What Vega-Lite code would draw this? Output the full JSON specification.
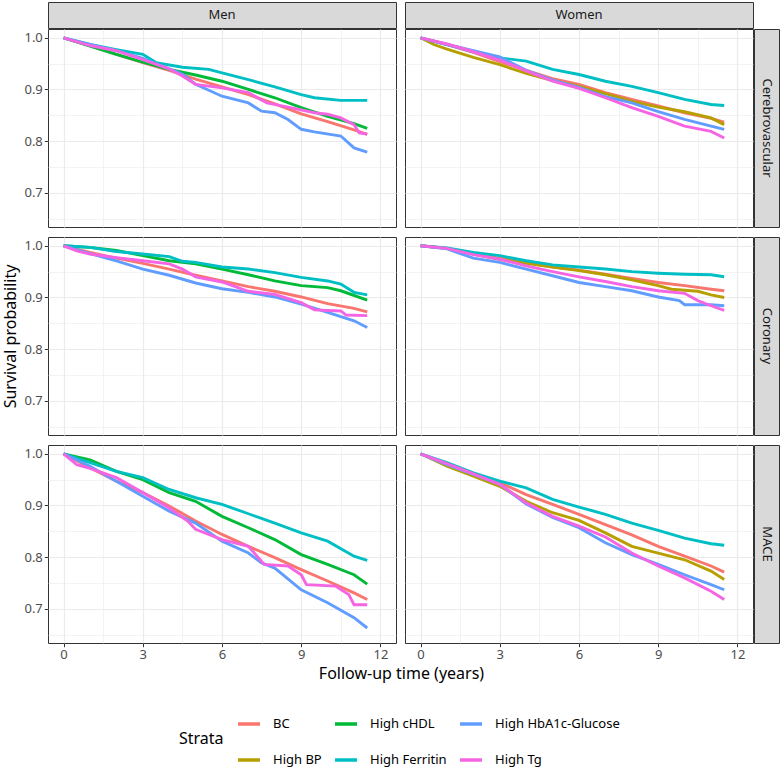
{
"$schema": "https://vega.github.io/schema/vega-lite/v6.json",
"padding": {"left": 2, "top": 1, "right": 1, "bottom": 2},
"background": "white",
"datasets": {
"mCV": [
{"strata":"BC","t":0,"s":1},{"strata":"BC","t":1,"s":0.985},{"strata":"BC","t":2,"s":0.968},{"strata":"BC","t":3,"s":0.952},{"strata":"BC","t":4,"s":0.937},{"strata":"BC","t":5,"s":0.92},{"strata":"BC","t":6,"s":0.905},{"strata":"BC","t":7,"s":0.89},{"strata":"BC","t":8,"s":0.872},{"strata":"BC","t":9,"s":0.853},{"strata":"BC","t":10,"s":0.838},{"strata":"BC","t":11,"s":0.822},{"strata":"BC","t":11.5,"s":0.813},
{"strata":"High cHDL","t":0,"s":1},{"strata":"High cHDL","t":1,"s":0.984},{"strata":"High cHDL","t":2,"s":0.968},{"strata":"High cHDL","t":3,"s":0.953},{"strata":"High cHDL","t":4,"s":0.939},{"strata":"High cHDL","t":5,"s":0.928},{"strata":"High cHDL","t":6,"s":0.916},{"strata":"High cHDL","t":7,"s":0.9},{"strata":"High cHDL","t":8,"s":0.884},{"strata":"High cHDL","t":9,"s":0.865},{"strata":"High cHDL","t":10,"s":0.848},{"strata":"High cHDL","t":11,"s":0.834},{"strata":"High cHDL","t":11.5,"s":0.825},
{"strata":"High Ferritin","t":0,"s":1},{"strata":"High Ferritin","t":1,"s":0.987},{"strata":"High Ferritin","t":2,"s":0.977},{"strata":"High Ferritin","t":3,"s":0.968},{"strata":"High Ferritin","t":3.5,"s":0.952},{"strata":"High Ferritin","t":4.5,"s":0.943},{"strata":"High Ferritin","t":5.5,"s":0.939},{"strata":"High Ferritin","t":6,"s":0.932},{"strata":"High Ferritin","t":7,"s":0.919},{"strata":"High Ferritin","t":8,"s":0.905},{"strata":"High Ferritin","t":9,"s":0.89},{"strata":"High Ferritin","t":9.5,"s":0.884},{"strata":"High Ferritin","t":10.5,"s":0.879},{"strata":"High Ferritin","t":11.5,"s":0.879},
{"strata":"High HbA1c-Glucose","t":0,"s":1},{"strata":"High HbA1c-Glucose","t":1,"s":0.987},{"strata":"High HbA1c-Glucose","t":2,"s":0.975},{"strata":"High HbA1c-Glucose","t":3,"s":0.96},{"strata":"High HbA1c-Glucose","t":4,"s":0.94},{"strata":"High HbA1c-Glucose","t":4.5,"s":0.93},{"strata":"High HbA1c-Glucose","t":5,"s":0.91},{"strata":"High HbA1c-Glucose","t":6,"s":0.887},{"strata":"High HbA1c-Glucose","t":7,"s":0.874},{"strata":"High HbA1c-Glucose","t":7.5,"s":0.858},{"strata":"High HbA1c-Glucose","t":8,"s":0.855},{"strata":"High HbA1c-Glucose","t":8.5,"s":0.842},{"strata":"High HbA1c-Glucose","t":9,"s":0.823},{"strata":"High HbA1c-Glucose","t":9.5,"s":0.818},{"strata":"High HbA1c-Glucose","t":10.5,"s":0.81},{"strata":"High HbA1c-Glucose","t":11,"s":0.787},{"strata":"High HbA1c-Glucose","t":11.5,"s":0.779},
{"strata":"High Tg","t":0,"s":1},{"strata":"High Tg","t":1,"s":0.985},{"strata":"High Tg","t":2,"s":0.975},{"strata":"High Tg","t":3,"s":0.958},{"strata":"High Tg","t":4,"s":0.94},{"strata":"High Tg","t":4.5,"s":0.926},{"strata":"High Tg","t":5,"s":0.91},{"strata":"High Tg","t":6,"s":0.903},{"strata":"High Tg","t":7,"s":0.894},{"strata":"High Tg","t":7.7,"s":0.874},{"strata":"High Tg","t":8.5,"s":0.866},{"strata":"High Tg","t":9.5,"s":0.855},{"strata":"High Tg","t":10,"s":0.852},{"strata":"High Tg","t":10.5,"s":0.845},{"strata":"High Tg","t":11,"s":0.832},{"strata":"High Tg","t":11.2,"s":0.816},{"strata":"High Tg","t":11.5,"s":0.814}
],
"wCV": [
{"strata":"BC","t":0,"s":1},{"strata":"BC","t":1,"s":0.987},{"strata":"BC","t":2,"s":0.972},{"strata":"BC","t":3,"s":0.954},{"strata":"BC","t":4,"s":0.937},{"strata":"BC","t":5,"s":0.921},{"strata":"BC","t":6,"s":0.91},{"strata":"BC","t":7,"s":0.894},{"strata":"BC","t":8,"s":0.881},{"strata":"BC","t":9,"s":0.868},{"strata":"BC","t":10,"s":0.855},{"strata":"BC","t":11,"s":0.844},{"strata":"BC","t":11.5,"s":0.837},
{"strata":"High BP","t":0,"s":1},{"strata":"High BP","t":0.5,"s":0.987},{"strata":"High BP","t":1,"s":0.978},{"strata":"High BP","t":2,"s":0.962},{"strata":"High BP","t":3,"s":0.948},{"strata":"High BP","t":4,"s":0.931},{"strata":"High BP","t":5,"s":0.917},{"strata":"High BP","t":6,"s":0.906},{"strata":"High BP","t":7,"s":0.892},{"strata":"High BP","t":8,"s":0.877},{"strata":"High BP","t":9,"s":0.866},{"strata":"High BP","t":10,"s":0.857},{"strata":"High BP","t":11,"s":0.845},{"strata":"High BP","t":11.5,"s":0.832},
{"strata":"High Ferritin","t":0,"s":1},{"strata":"High Ferritin","t":1,"s":0.987},{"strata":"High Ferritin","t":2,"s":0.973},{"strata":"High Ferritin","t":3,"s":0.961},{"strata":"High Ferritin","t":4,"s":0.955},{"strata":"High Ferritin","t":5,"s":0.939},{"strata":"High Ferritin","t":6,"s":0.929},{"strata":"High Ferritin","t":7,"s":0.916},{"strata":"High Ferritin","t":8,"s":0.906},{"strata":"High Ferritin","t":9,"s":0.894},{"strata":"High Ferritin","t":10,"s":0.881},{"strata":"High Ferritin","t":11,"s":0.871},{"strata":"High Ferritin","t":11.5,"s":0.869},
{"strata":"High HbA1c-Glucose","t":0,"s":1},{"strata":"High HbA1c-Glucose","t":1,"s":0.987},{"strata":"High HbA1c-Glucose","t":2,"s":0.975},{"strata":"High HbA1c-Glucose","t":3,"s":0.963},{"strata":"High HbA1c-Glucose","t":4,"s":0.937},{"strata":"High HbA1c-Glucose","t":5,"s":0.918},{"strata":"High HbA1c-Glucose","t":6,"s":0.904},{"strata":"High HbA1c-Glucose","t":7,"s":0.886},{"strata":"High HbA1c-Glucose","t":8,"s":0.874},{"strata":"High HbA1c-Glucose","t":9,"s":0.857},{"strata":"High HbA1c-Glucose","t":10,"s":0.842},{"strata":"High HbA1c-Glucose","t":11,"s":0.829},{"strata":"High HbA1c-Glucose","t":11.5,"s":0.823},
{"strata":"High Tg","t":0,"s":1},{"strata":"High Tg","t":1,"s":0.988},{"strata":"High Tg","t":2,"s":0.973},{"strata":"High Tg","t":3,"s":0.957},{"strata":"High Tg","t":4,"s":0.936},{"strata":"High Tg","t":5,"s":0.916},{"strata":"High Tg","t":6,"s":0.902},{"strata":"High Tg","t":7,"s":0.884},{"strata":"High Tg","t":8,"s":0.865},{"strata":"High Tg","t":9,"s":0.848},{"strata":"High Tg","t":10,"s":0.829},{"strata":"High Tg","t":11,"s":0.819},{"strata":"High Tg","t":11.5,"s":0.806}
],
"mCO": [
{"strata":"BC","t":0,"s":1},{"strata":"BC","t":1,"s":0.987},{"strata":"BC","t":2,"s":0.976},{"strata":"BC","t":3,"s":0.966},{"strata":"BC","t":4,"s":0.955},{"strata":"BC","t":5,"s":0.943},{"strata":"BC","t":6,"s":0.932},{"strata":"BC","t":7,"s":0.921},{"strata":"BC","t":8,"s":0.912},{"strata":"BC","t":9,"s":0.901},{"strata":"BC","t":10,"s":0.888},{"strata":"BC","t":11,"s":0.879},{"strata":"BC","t":11.5,"s":0.872},
{"strata":"High cHDL","t":0,"s":1},{"strata":"High cHDL","t":1,"s":0.997},{"strata":"High cHDL","t":2,"s":0.991},{"strata":"High cHDL","t":3,"s":0.981},{"strata":"High cHDL","t":4,"s":0.971},{"strata":"High cHDL","t":5,"s":0.965},{"strata":"High cHDL","t":6,"s":0.955},{"strata":"High cHDL","t":7,"s":0.944},{"strata":"High cHDL","t":8,"s":0.932},{"strata":"High cHDL","t":9,"s":0.923},{"strata":"High cHDL","t":10,"s":0.919},{"strata":"High cHDL","t":10.5,"s":0.913},{"strata":"High cHDL","t":11.5,"s":0.895},
{"strata":"High Ferritin","t":0,"s":1},{"strata":"High Ferritin","t":1,"s":0.997},{"strata":"High Ferritin","t":2,"s":0.989},{"strata":"High Ferritin","t":3,"s":0.984},{"strata":"High Ferritin","t":4,"s":0.979},{"strata":"High Ferritin","t":4.5,"s":0.97},{"strata":"High Ferritin","t":5,"s":0.968},{"strata":"High Ferritin","t":6,"s":0.959},{"strata":"High Ferritin","t":7,"s":0.955},{"strata":"High Ferritin","t":8,"s":0.948},{"strata":"High Ferritin","t":9,"s":0.939},{"strata":"High Ferritin","t":10,"s":0.932},{"strata":"High Ferritin","t":10.5,"s":0.926},{"strata":"High Ferritin","t":11,"s":0.91},{"strata":"High Ferritin","t":11.5,"s":0.905},
{"strata":"High HbA1c-Glucose","t":0,"s":1},{"strata":"High HbA1c-Glucose","t":1,"s":0.985},{"strata":"High HbA1c-Glucose","t":2,"s":0.971},{"strata":"High HbA1c-Glucose","t":3,"s":0.955},{"strata":"High HbA1c-Glucose","t":4,"s":0.943},{"strata":"High HbA1c-Glucose","t":5,"s":0.928},{"strata":"High HbA1c-Glucose","t":6,"s":0.917},{"strata":"High HbA1c-Glucose","t":7,"s":0.91},{"strata":"High HbA1c-Glucose","t":8,"s":0.901},{"strata":"High HbA1c-Glucose","t":9,"s":0.887},{"strata":"High HbA1c-Glucose","t":10,"s":0.871},{"strata":"High HbA1c-Glucose","t":11,"s":0.855},{"strata":"High HbA1c-Glucose","t":11.5,"s":0.842},
{"strata":"High Tg","t":0,"s":1},{"strata":"High Tg","t":0.5,"s":0.99},{"strata":"High Tg","t":1,"s":0.984},{"strata":"High Tg","t":2,"s":0.977},{"strata":"High Tg","t":3,"s":0.971},{"strata":"High Tg","t":4,"s":0.965},{"strata":"High Tg","t":4.5,"s":0.955},{"strata":"High Tg","t":5,"s":0.94},{"strata":"High Tg","t":6,"s":0.93},{"strata":"High Tg","t":7,"s":0.912},{"strata":"High Tg","t":8,"s":0.906},{"strata":"High Tg","t":9,"s":0.89},{"strata":"High Tg","t":9.5,"s":0.876},{"strata":"High Tg","t":10.5,"s":0.874},{"strata":"High Tg","t":10.7,"s":0.866},{"strata":"High Tg","t":11.5,"s":0.865}
],
"wCO": [
{"strata":"BC","t":0,"s":1},{"strata":"BC","t":1,"s":0.995},{"strata":"BC","t":2,"s":0.984},{"strata":"BC","t":3,"s":0.976},{"strata":"BC","t":4,"s":0.968},{"strata":"BC","t":5,"s":0.959},{"strata":"BC","t":6,"s":0.953},{"strata":"BC","t":7,"s":0.945},{"strata":"BC","t":8,"s":0.937},{"strata":"BC","t":9,"s":0.929},{"strata":"BC","t":10,"s":0.923},{"strata":"BC","t":11,"s":0.916},{"strata":"BC","t":11.5,"s":0.913},
{"strata":"High BP","t":0,"s":1},{"strata":"High BP","t":1,"s":0.995},{"strata":"High BP","t":2,"s":0.984},{"strata":"High BP","t":3,"s":0.974},{"strata":"High BP","t":4,"s":0.966},{"strata":"High BP","t":5,"s":0.959},{"strata":"High BP","t":6,"s":0.952},{"strata":"High BP","t":7,"s":0.944},{"strata":"High BP","t":8,"s":0.934},{"strata":"High BP","t":9,"s":0.923},{"strata":"High BP","t":9.5,"s":0.916},{"strata":"High BP","t":10.5,"s":0.912},{"strata":"High BP","t":11,"s":0.905},{"strata":"High BP","t":11.5,"s":0.9},
{"strata":"High Ferritin","t":0,"s":1},{"strata":"High Ferritin","t":1,"s":0.996},{"strata":"High Ferritin","t":2,"s":0.987},{"strata":"High Ferritin","t":3,"s":0.981},{"strata":"High Ferritin","t":4,"s":0.971},{"strata":"High Ferritin","t":5,"s":0.963},{"strata":"High Ferritin","t":6,"s":0.959},{"strata":"High Ferritin","t":7,"s":0.955},{"strata":"High Ferritin","t":8,"s":0.95},{"strata":"High Ferritin","t":9,"s":0.947},{"strata":"High Ferritin","t":10,"s":0.945},{"strata":"High Ferritin","t":11,"s":0.944},{"strata":"High Ferritin","t":11.5,"s":0.94},
{"strata":"High HbA1c-Glucose","t":0,"s":1},{"strata":"High HbA1c-Glucose","t":1,"s":0.994},{"strata":"High HbA1c-Glucose","t":2,"s":0.976},{"strata":"High HbA1c-Glucose","t":3,"s":0.968},{"strata":"High HbA1c-Glucose","t":4,"s":0.955},{"strata":"High HbA1c-Glucose","t":5,"s":0.942},{"strata":"High HbA1c-Glucose","t":6,"s":0.929},{"strata":"High HbA1c-Glucose","t":7,"s":0.921},{"strata":"High HbA1c-Glucose","t":8,"s":0.913},{"strata":"High HbA1c-Glucose","t":9,"s":0.901},{"strata":"High HbA1c-Glucose","t":9.8,"s":0.894},{"strata":"High HbA1c-Glucose","t":10,"s":0.886},{"strata":"High HbA1c-Glucose","t":11,"s":0.886},{"strata":"High HbA1c-Glucose","t":11.5,"s":0.884},
{"strata":"High Tg","t":0,"s":1},{"strata":"High Tg","t":1,"s":0.995},{"strata":"High Tg","t":2,"s":0.983},{"strata":"High Tg","t":3,"s":0.974},{"strata":"High Tg","t":4,"s":0.961},{"strata":"High Tg","t":5,"s":0.95},{"strata":"High Tg","t":6,"s":0.94},{"strata":"High Tg","t":7,"s":0.931},{"strata":"High Tg","t":8,"s":0.921},{"strata":"High Tg","t":9,"s":0.913},{"strata":"High Tg","t":10,"s":0.908},{"strata":"High Tg","t":10.5,"s":0.894},{"strata":"High Tg","t":11,"s":0.884},{"strata":"High Tg","t":11.5,"s":0.875}
],
"mMA": [
{"strata":"BC","t":0,"s":1},{"strata":"BC","t":1,"s":0.973},{"strata":"BC","t":2,"s":0.947},{"strata":"BC","t":3,"s":0.925},{"strata":"BC","t":4,"s":0.899},{"strata":"BC","t":5,"s":0.87},{"strata":"BC","t":6,"s":0.844},{"strata":"BC","t":7,"s":0.821},{"strata":"BC","t":8,"s":0.799},{"strata":"BC","t":9,"s":0.776},{"strata":"BC","t":10,"s":0.754},{"strata":"BC","t":11,"s":0.731},{"strata":"BC","t":11.5,"s":0.718},
{"strata":"High cHDL","t":0,"s":1},{"strata":"High cHDL","t":1,"s":0.988},{"strata":"High cHDL","t":2,"s":0.966},{"strata":"High cHDL","t":3,"s":0.95},{"strata":"High cHDL","t":4,"s":0.925},{"strata":"High cHDL","t":5,"s":0.908},{"strata":"High cHDL","t":6,"s":0.879},{"strata":"High cHDL","t":7,"s":0.857},{"strata":"High cHDL","t":8,"s":0.834},{"strata":"High cHDL","t":9,"s":0.805},{"strata":"High cHDL","t":10,"s":0.786},{"strata":"High cHDL","t":11,"s":0.766},{"strata":"High cHDL","t":11.5,"s":0.748},
{"strata":"High Ferritin","t":0,"s":1},{"strata":"High Ferritin","t":1,"s":0.983},{"strata":"High Ferritin","t":2,"s":0.966},{"strata":"High Ferritin","t":3,"s":0.954},{"strata":"High Ferritin","t":4,"s":0.931},{"strata":"High Ferritin","t":5,"s":0.915},{"strata":"High Ferritin","t":6,"s":0.902},{"strata":"High Ferritin","t":7,"s":0.884},{"strata":"High Ferritin","t":8,"s":0.866},{"strata":"High Ferritin","t":9,"s":0.847},{"strata":"High Ferritin","t":10,"s":0.831},{"strata":"High Ferritin","t":11,"s":0.802},{"strata":"High Ferritin","t":11.5,"s":0.794},
{"strata":"High HbA1c-Glucose","t":0,"s":1},{"strata":"High HbA1c-Glucose","t":1,"s":0.976},{"strata":"High HbA1c-Glucose","t":2,"s":0.947},{"strata":"High HbA1c-Glucose","t":3,"s":0.918},{"strata":"High HbA1c-Glucose","t":4,"s":0.889},{"strata":"High HbA1c-Glucose","t":5,"s":0.866},{"strata":"High HbA1c-Glucose","t":6,"s":0.831},{"strata":"High HbA1c-Glucose","t":7,"s":0.808},{"strata":"High HbA1c-Glucose","t":7.5,"s":0.789},{"strata":"High HbA1c-Glucose","t":8,"s":0.779},{"strata":"High HbA1c-Glucose","t":9,"s":0.737},{"strata":"High HbA1c-Glucose","t":10,"s":0.712},{"strata":"High HbA1c-Glucose","t":11,"s":0.683},{"strata":"High HbA1c-Glucose","t":11.5,"s":0.663},
{"strata":"High Tg","t":0,"s":1},{"strata":"High Tg","t":0.5,"s":0.979},{"strata":"High Tg","t":1,"s":0.972},{"strata":"High Tg","t":2,"s":0.954},{"strata":"High Tg","t":3,"s":0.925},{"strata":"High Tg","t":4,"s":0.895},{"strata":"High Tg","t":4.7,"s":0.87},{"strata":"High Tg","t":5,"s":0.854},{"strata":"High Tg","t":6,"s":0.834},{"strata":"High Tg","t":7,"s":0.821},{"strata":"High Tg","t":7.6,"s":0.786},{"strata":"High Tg","t":8.5,"s":0.783},{"strata":"High Tg","t":9,"s":0.766},{"strata":"High Tg","t":9.2,"s":0.747},{"strata":"High Tg","t":10.3,"s":0.744},{"strata":"High Tg","t":10.8,"s":0.728},{"strata":"High Tg","t":11,"s":0.708},{"strata":"High Tg","t":11.5,"s":0.708}
],
"wMA": [
{"strata":"BC","t":0,"s":1},{"strata":"BC","t":1,"s":0.981},{"strata":"BC","t":2,"s":0.961},{"strata":"BC","t":3,"s":0.944},{"strata":"BC","t":4,"s":0.921},{"strata":"BC","t":5,"s":0.902},{"strata":"BC","t":6,"s":0.883},{"strata":"BC","t":7,"s":0.863},{"strata":"BC","t":8,"s":0.843},{"strata":"BC","t":9,"s":0.821},{"strata":"BC","t":10,"s":0.802},{"strata":"BC","t":11,"s":0.783},{"strata":"BC","t":11.5,"s":0.771},
{"strata":"High BP","t":0,"s":1},{"strata":"High BP","t":1,"s":0.976},{"strata":"High BP","t":2,"s":0.957},{"strata":"High BP","t":3,"s":0.937},{"strata":"High BP","t":4,"s":0.908},{"strata":"High BP","t":5,"s":0.886},{"strata":"High BP","t":6,"s":0.871},{"strata":"High BP","t":7,"s":0.847},{"strata":"High BP","t":8,"s":0.821},{"strata":"High BP","t":9,"s":0.808},{"strata":"High BP","t":10,"s":0.795},{"strata":"High BP","t":11,"s":0.773},{"strata":"High BP","t":11.5,"s":0.757},
{"strata":"High Ferritin","t":0,"s":1},{"strata":"High Ferritin","t":1,"s":0.983},{"strata":"High Ferritin","t":2,"s":0.963},{"strata":"High Ferritin","t":3,"s":0.947},{"strata":"High Ferritin","t":4,"s":0.934},{"strata":"High Ferritin","t":5,"s":0.912},{"strata":"High Ferritin","t":6,"s":0.897},{"strata":"High Ferritin","t":7,"s":0.883},{"strata":"High Ferritin","t":8,"s":0.866},{"strata":"High Ferritin","t":9,"s":0.852},{"strata":"High Ferritin","t":10,"s":0.837},{"strata":"High Ferritin","t":11,"s":0.826},{"strata":"High Ferritin","t":11.5,"s":0.823},
{"strata":"High HbA1c-Glucose","t":0,"s":1},{"strata":"High HbA1c-Glucose","t":1,"s":0.979},{"strata":"High HbA1c-Glucose","t":2,"s":0.96},{"strata":"High HbA1c-Glucose","t":3,"s":0.941},{"strata":"High HbA1c-Glucose","t":4,"s":0.903},{"strata":"High HbA1c-Glucose","t":5,"s":0.877},{"strata":"High HbA1c-Glucose","t":6,"s":0.857},{"strata":"High HbA1c-Glucose","t":7,"s":0.828},{"strata":"High HbA1c-Glucose","t":8,"s":0.805},{"strata":"High HbA1c-Glucose","t":9,"s":0.786},{"strata":"High HbA1c-Glucose","t":10,"s":0.766},{"strata":"High HbA1c-Glucose","t":11,"s":0.747},{"strata":"High HbA1c-Glucose","t":11.5,"s":0.737},
{"strata":"High Tg","t":0,"s":1},{"strata":"High Tg","t":1,"s":0.981},{"strata":"High Tg","t":2,"s":0.961},{"strata":"High Tg","t":3,"s":0.941},{"strata":"High Tg","t":4,"s":0.905},{"strata":"High Tg","t":5,"s":0.879},{"strata":"High Tg","t":6,"s":0.86},{"strata":"High Tg","t":7,"s":0.839},{"strata":"High Tg","t":8,"s":0.808},{"strata":"High Tg","t":9,"s":0.783},{"strata":"High Tg","t":10,"s":0.76},{"strata":"High Tg","t":11,"s":0.734},{"strata":"High Tg","t":11.5,"s":0.718}
]
},
"concat": [
{"width": 348, "height": 26, "data": {"values": [{"label": "Men"}]}, "mark": {"type": "text", "fontSize": 13, "color": "#1A1A1A"}, "encoding": {"text": {"field": "label", "type": "nominal"}}, "view": {"fill": "#D9D9D9", "stroke": "#333333"}},
{"width": 7, "height": 1, "data": {"values": []}, "mark": "point", "view": {"stroke": null}},
{"width": 348, "height": 26, "data": {"values": [{"label": "Women"}]}, "mark": {"type": "text", "fontSize": 13, "color": "#1A1A1A"}, "encoding": {"text": {"field": "label", "type": "nominal"}}, "view": {"fill": "#D9D9D9", "stroke": "#333333"}},
{"width": 1, "height": 1, "data": {"values": []}, "mark": "point", "view": {"stroke": null}},

{"width": 348, "height": 198, "data": {"name": "mCV"}, "mark": {"type": "line", "strokeWidth": 2.9},
 "encoding": {
  "x": {"field": "t", "type": "quantitative", "scale": {"domain": [-0.59, 12.59], "nice": false, "zero": false}, "axis": {"values": [0,1.5,3,4.5,6,7.5,9,10.5,12], "labels": false, "ticks": false, "title": null, "gridWidth": {"condition": {"test": "datum.value % 3 == 0", "value": 1.2}, "value": 0.6}}},
  "y": {"field": "s", "type": "quantitative", "scale": {"domain": [0.634, 1.017], "nice": false, "zero": false}, "axis": {"values": [0.65,0.7,0.75,0.8,0.85,0.9,0.95,1.0], "labelExpr": "abs(datum.value*10 - round(datum.value*10)) < 0.01 ? format(datum.value, '.1f') : ''", "tickOpacity": {"condition": {"test": "abs(datum.value*10 - round(datum.value*10)) < 0.01", "value": 1}, "value": 0}, "gridWidth": {"condition": {"test": "abs(datum.value*10 - round(datum.value*10)) < 0.01", "value": 1.2}, "value": 0.6}, "title": null}},
  "color": {"field": "strata", "type": "nominal", "scale": {"domain": ["BC","High cHDL","High HbA1c-Glucose","High BP","High Ferritin","High Tg"], "range": ["#F8766D","#00BA38","#619CFF","#B79F00","#00BFC4","#F564E3"]}, "legend": {"title": "Strata", "orient": "none", "legendX": 131, "legendY": 709, "direction": "horizontal", "columns": 3, "titleOrient": "left", "titleAnchor": "middle", "titleFontSize": 16, "titleFontWeight": "normal", "titleColor": "#000000", "titlePadding": 12, "symbolType": "stroke", "symbolStrokeWidth": 3.5, "symbolSize": 484, "labelFontSize": 13, "labelColor": "#000000", "labelOffset": 11, "columnPadding": 6, "rowPadding": 16}}
 }},
{"width": 7, "height": 1, "data": {"values": []}, "mark": "point", "view": {"stroke": null}},
{"width": 348, "height": 198, "data": {"name": "wCV"}, "mark": {"type": "line", "strokeWidth": 2.9},
 "encoding": {
  "x": {"field": "t", "type": "quantitative", "scale": {"domain": [-0.59, 12.59], "nice": false, "zero": false}, "axis": {"values": [0,1.5,3,4.5,6,7.5,9,10.5,12], "labels": false, "ticks": false, "title": null, "gridWidth": {"condition": {"test": "datum.value % 3 == 0", "value": 1.2}, "value": 0.6}}},
  "y": {"field": "s", "type": "quantitative", "scale": {"domain": [0.634, 1.017], "nice": false, "zero": false}, "axis": {"values": [0.65,0.7,0.75,0.8,0.85,0.9,0.95,1.0], "labels": false, "ticks": false, "gridWidth": {"condition": {"test": "abs(datum.value*10 - round(datum.value*10)) < 0.01", "value": 1.2}, "value": 0.6}, "title": null}},
  "color": {"field": "strata", "type": "nominal", "scale": {"domain": ["BC","High cHDL","High HbA1c-Glucose","High BP","High Ferritin","High Tg"], "range": ["#F8766D","#00BA38","#619CFF","#B79F00","#00BFC4","#F564E3"]}}
 }},
{"width": 25, "height": 198, "data": {"values": [{"label": "Cerebrovascular"}]}, "mark": {"type": "text", "fontSize": 13, "color": "#1A1A1A", "angle": 90}, "encoding": {"text": {"field": "label", "type": "nominal"}}, "view": {"fill": "#D9D9D9", "stroke": "#333333"}},

{"width": 1, "height": 8, "data": {"values": []}, "mark": "point", "view": {"stroke": null}},
{"width": 1, "height": 8, "data": {"values": []}, "mark": "point", "view": {"stroke": null}},
{"width": 1, "height": 8, "data": {"values": []}, "mark": "point", "view": {"stroke": null}},
{"width": 1, "height": 8, "data": {"values": []}, "mark": "point", "view": {"stroke": null}},

{"width": 348, "height": 198, "data": {"name": "mCO"}, "mark": {"type": "line", "strokeWidth": 2.9},
 "encoding": {
  "x": {"field": "t", "type": "quantitative", "scale": {"domain": [-0.59, 12.59], "nice": false, "zero": false}, "axis": {"values": [0,1.5,3,4.5,6,7.5,9,10.5,12], "labels": false, "ticks": false, "title": null, "gridWidth": {"condition": {"test": "datum.value % 3 == 0", "value": 1.2}, "value": 0.6}}},
  "y": {"field": "s", "type": "quantitative", "scale": {"domain": [0.634, 1.017], "nice": false, "zero": false}, "axis": {"values": [0.65,0.7,0.75,0.8,0.85,0.9,0.95,1.0], "labelExpr": "abs(datum.value*10 - round(datum.value*10)) < 0.01 ? format(datum.value, '.1f') : ''", "tickOpacity": {"condition": {"test": "abs(datum.value*10 - round(datum.value*10)) < 0.01", "value": 1}, "value": 0}, "gridWidth": {"condition": {"test": "abs(datum.value*10 - round(datum.value*10)) < 0.01", "value": 1.2}, "value": 0.6}, "title": "Survival probability", "titlePadding": 5}},
  "color": {"field": "strata", "type": "nominal", "scale": {"domain": ["BC","High cHDL","High HbA1c-Glucose","High BP","High Ferritin","High Tg"], "range": ["#F8766D","#00BA38","#619CFF","#B79F00","#00BFC4","#F564E3"]}}
 }},
{"width": 7, "height": 1, "data": {"values": []}, "mark": "point", "view": {"stroke": null}},
{"width": 348, "height": 198, "data": {"name": "wCO"}, "mark": {"type": "line", "strokeWidth": 2.9},
 "encoding": {
  "x": {"field": "t", "type": "quantitative", "scale": {"domain": [-0.59, 12.59], "nice": false, "zero": false}, "axis": {"values": [0,1.5,3,4.5,6,7.5,9,10.5,12], "labels": false, "ticks": false, "title": null, "gridWidth": {"condition": {"test": "datum.value % 3 == 0", "value": 1.2}, "value": 0.6}}},
  "y": {"field": "s", "type": "quantitative", "scale": {"domain": [0.634, 1.017], "nice": false, "zero": false}, "axis": {"values": [0.65,0.7,0.75,0.8,0.85,0.9,0.95,1.0], "labels": false, "ticks": false, "gridWidth": {"condition": {"test": "abs(datum.value*10 - round(datum.value*10)) < 0.01", "value": 1.2}, "value": 0.6}, "title": null}},
  "color": {"field": "strata", "type": "nominal", "scale": {"domain": ["BC","High cHDL","High HbA1c-Glucose","High BP","High Ferritin","High Tg"], "range": ["#F8766D","#00BA38","#619CFF","#B79F00","#00BFC4","#F564E3"]}}
 }},
{"width": 25, "height": 198, "data": {"values": [{"label": "Coronary"}]}, "mark": {"type": "text", "fontSize": 13, "color": "#1A1A1A", "angle": 90}, "encoding": {"text": {"field": "label", "type": "nominal"}}, "view": {"fill": "#D9D9D9", "stroke": "#333333"}},

{"width": 1, "height": 8, "data": {"values": []}, "mark": "point", "view": {"stroke": null}},
{"width": 1, "height": 8, "data": {"values": []}, "mark": "point", "view": {"stroke": null}},
{"width": 1, "height": 8, "data": {"values": []}, "mark": "point", "view": {"stroke": null}},
{"width": 1, "height": 8, "data": {"values": []}, "mark": "point", "view": {"stroke": null}},

{"width": 348, "height": 198, "data": {"name": "mMA"}, "mark": {"type": "line", "strokeWidth": 2.9},
 "encoding": {
  "x": {"field": "t", "type": "quantitative", "scale": {"domain": [-0.59, 12.59], "nice": false, "zero": false}, "axis": {"values": [0,1.5,3,4.5,6,7.5,9,10.5,12], "labelExpr": "datum.value % 3 == 0 ? format(datum.value, 'd') : ''", "tickOpacity": {"condition": {"test": "datum.value % 3 == 0", "value": 1}, "value": 0}, "gridWidth": {"condition": {"test": "datum.value % 3 == 0", "value": 1.2}, "value": 0.6}, "title": "Follow-up time (years)", "titleX": 353, "titlePadding": 4}},
  "y": {"field": "s", "type": "quantitative", "scale": {"domain": [0.634, 1.017], "nice": false, "zero": false}, "axis": {"values": [0.65,0.7,0.75,0.8,0.85,0.9,0.95,1.0], "labelExpr": "abs(datum.value*10 - round(datum.value*10)) < 0.01 ? format(datum.value, '.1f') : ''", "tickOpacity": {"condition": {"test": "abs(datum.value*10 - round(datum.value*10)) < 0.01", "value": 1}, "value": 0}, "gridWidth": {"condition": {"test": "abs(datum.value*10 - round(datum.value*10)) < 0.01", "value": 1.2}, "value": 0.6}, "title": null}},
  "color": {"field": "strata", "type": "nominal", "scale": {"domain": ["BC","High cHDL","High HbA1c-Glucose","High BP","High Ferritin","High Tg"], "range": ["#F8766D","#00BA38","#619CFF","#B79F00","#00BFC4","#F564E3"]}}
 }},
{"width": 7, "height": 1, "data": {"values": []}, "mark": "point", "view": {"stroke": null}},
{"width": 348, "height": 198, "data": {"name": "wMA"}, "mark": {"type": "line", "strokeWidth": 2.9},
 "encoding": {
  "x": {"field": "t", "type": "quantitative", "scale": {"domain": [-0.59, 12.59], "nice": false, "zero": false}, "axis": {"values": [0,1.5,3,4.5,6,7.5,9,10.5,12], "labelExpr": "datum.value % 3 == 0 ? format(datum.value, 'd') : ''", "tickOpacity": {"condition": {"test": "datum.value % 3 == 0", "value": 1}, "value": 0}, "gridWidth": {"condition": {"test": "datum.value % 3 == 0", "value": 1.2}, "value": 0.6}, "title": null}},
  "y": {"field": "s", "type": "quantitative", "scale": {"domain": [0.634, 1.017], "nice": false, "zero": false}, "axis": {"values": [0.65,0.7,0.75,0.8,0.85,0.9,0.95,1.0], "labels": false, "ticks": false, "gridWidth": {"condition": {"test": "abs(datum.value*10 - round(datum.value*10)) < 0.01", "value": 1.2}, "value": 0.6}, "title": null}},
  "color": {"field": "strata", "type": "nominal", "scale": {"domain": ["BC","High cHDL","High HbA1c-Glucose","High BP","High Ferritin","High Tg"], "range": ["#F8766D","#00BA38","#619CFF","#B79F00","#00BFC4","#F564E3"]}}
 }},
{"width": 25, "height": 198, "data": {"values": [{"label": "MACE"}]}, "mark": {"type": "text", "fontSize": 13, "color": "#1A1A1A", "angle": 90}, "encoding": {"text": {"field": "label", "type": "nominal"}}, "view": {"fill": "#D9D9D9", "stroke": "#333333"}}
],
"columns": 4,
"spacing": {"row": 1, "column": 1},
"align": "each",
"bounds": "flush",
"config": {
  "font": "Noto Sans",
  "view": {"stroke": "#333333", "strokeWidth": 1},
  "axis": {"domain": false, "gridColor": "#EBEBEB", "tickColor": "#333333", "tickSize": 3.7, "tickWidth": 1, "labelColor": "#4D4D4D", "labelFontSize": 13, "labelPadding": 2, "labelFlush": false, "labelOverlap": false, "titleFontSize": 16, "titleFontWeight": "normal", "titleColor": "#000000", "labelFont": "Noto Sans", "titleFont": "Noto Sans"},
  "legend": {"labelFont": "Noto Sans", "titleFont": "Noto Sans"},
  "text": {"font": "Noto Sans"}
}
}
